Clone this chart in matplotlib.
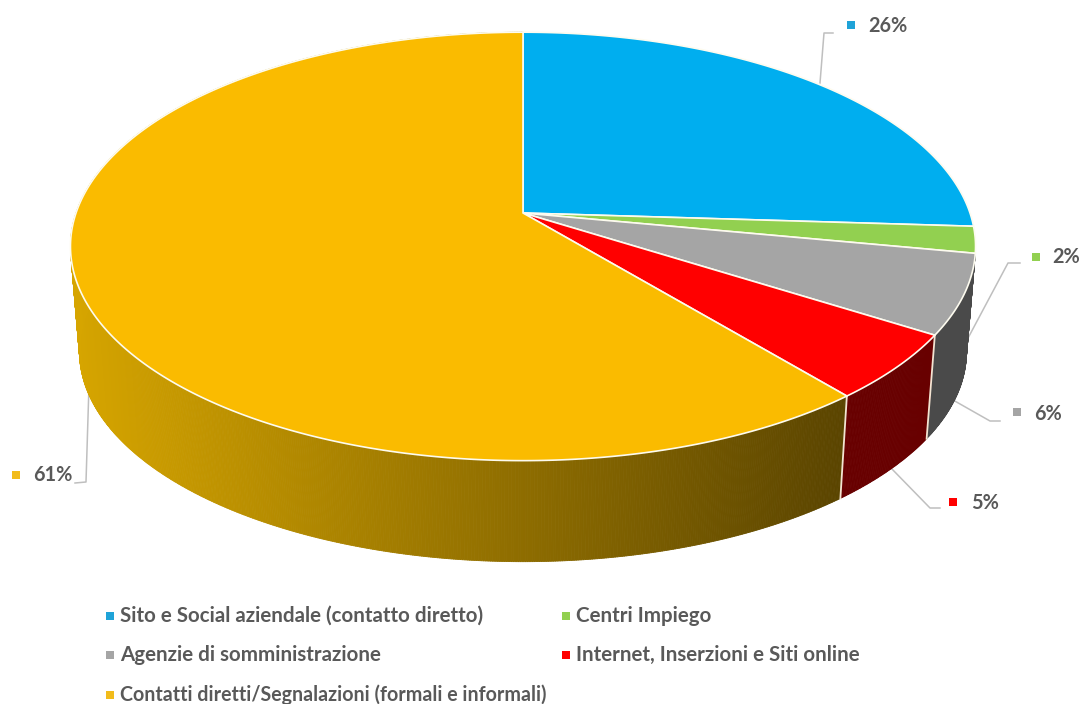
import numpy as np
import matplotlib
matplotlib.use("Agg")
import matplotlib.pyplot as plt
from matplotlib.collections import PolyCollection
from matplotlib.patches import Polygon

categories = ["Sito e Social aziendale (contatto diretto)", "Centri Impiego",
              "Agenzie di somministrazione", "Internet, Inserzioni e Siti online",
              "Contatti diretti/Segnalazioni (formali e informali)"]
shares = [26, 2, 6, 5, 61]
top_colors = ["#00AEEF", "#92D050", "#A5A5A5", "#FF0000", "#FABB00"]
marker_colors = ["#1FA3D8", "#92D050", "#A5A5A5", "#FF0000", "#F2BC1B"]

# Pie geometry in pixel units: perspective projection of a tilted disc
CX, CY = 523.0, 213.0
SEMI_X, SEMI_Y, TILT = 447.0, 209.0, 0.156
DEPTH, FOOT_SCALE = 106.0, 0.98


def rim(turn, scale=1.0, drop=0.0):
    """Project a position on the disc edge; turn is clockwise from 12 o'clock, 0-1."""
    a = 2 * np.pi * np.asarray(turn)
    u, v = np.sin(a), -np.cos(a)
    w = 1 - TILT * v
    return np.column_stack([CX + scale * SEMI_X * u / w,
                            CY + drop + scale * SEMI_Y * v / w])


fig = plt.figure(figsize=(10.81, 7.04), dpi=100)
ax = fig.add_axes([0, 0, 1, 1])
ax.set_xlim(0, 1081)
ax.set_ylim(704, 0)
ax.axis("off")

edges = np.cumsum([0] + shares) / sum(shares)


def rgb(h):
    return matplotlib.colors.to_rgb(h)


def wall(start, stop, left_rgb, right_rgb, x_span):
    """Side wall of a slice, shaded left to right in thin strips."""
    t = np.linspace(start, stop, max(int((stop - start) * 1400), 2) + 1)
    upper, lower = rim(t), rim(t, FOOT_SCALE, DEPTH)
    quads, colors = [], []
    for i in range(len(t) - 1):
        quads.append([upper[i], upper[i + 1], lower[i + 1], lower[i]])
        f = np.clip((upper[i, 0] - x_span[0]) / (x_span[1] - x_span[0]), 0, 1)
        colors.append(tuple((1 - f) * np.array(left_rgb) + f * np.array(right_rgb)))
    ax.add_collection(PolyCollection(quads, facecolors=colors, edgecolors=colors,
                                     linewidths=0.6, zorder=2))


# Side walls of the slices facing the viewer
wall(edges[2], edges[3], rgb("#4A4A4A"), rgb("#4A4A4A"), (0, 1))
wall(edges[3], edges[4], rgb("#680000"), rgb("#680000"), (0, 1))
wall(edges[4], edges[5], rgb("#D6A500"), rgb("#5A4400"), (71, 850))

# Pale creases where neighbouring walls meet
for e in (edges[3], edges[4]):
    a, b = rim(e), rim(e, FOOT_SCALE, DEPTH)
    ax.plot([a[0, 0], b[0, 0]], [a[0, 1], b[0, 1]], color="#F3E4D2", lw=1.3, zorder=3)

# Top face
for i, c in enumerate(top_colors):
    t = np.linspace(edges[i], edges[i + 1], max(int(shares[i] * 8), 6))
    poly = np.vstack([[CX, CY], rim(t)])
    ax.add_patch(Polygon(poly, closed=True, facecolor=c, edgecolor="#FDFBEF",
                         lw=1.2, joinstyle="round", zorder=4))

text_color = "#595959"
font = dict(family="Lato", weight="bold", color=text_color)

# Callouts: leader line, colour chip and percentage for each slice
leaders = [[(820, 83), (824, 33), (833, 33)],
           [(967, 340), (1008, 263), (1020, 263)],
           [(953, 400), (990, 421), (1000, 421)],
           [(890, 467), (930, 508), (940, 508)],
           [(89, 385), (86, 482), (75, 483)]]
chips = [(851, 25), (1036, 257), (1017, 412), (953, 502), (16, 475)]
label_pos = [(868, 26), (1052, 257), (1034, 414), (971, 503), (33, 475)]
for i, s in enumerate(shares):
    xs, ys = zip(*leaders[i])
    ax.plot(xs, ys, color="#BFBFBF", lw=1.1, zorder=1)
    ax.plot(*chips[i], marker="s", ms=5.6, color=marker_colors[i], mew=0, zorder=5)
    ax.text(*label_pos[i], f"{s}%", fontsize=14.3, ha="left", va="center", **font)

# Legend rows
legend_pos = [(110, 616), (566, 616), (110, 655), (566, 655), (110, 695)]
legend_sizes = [14.8, 14.8, 14.8, 14.8, 14.1]
for (x, y), name, c, fs in zip(legend_pos, categories, marker_colors, legend_sizes):
    ax.plot(x, y, marker="s", ms=5.6, color=c, mew=0, zorder=5)
    ax.text(x + 10, y, name, fontsize=fs, ha="left", va="center", **font)

fig.savefig("out.png", dpi=100, facecolor="white")
